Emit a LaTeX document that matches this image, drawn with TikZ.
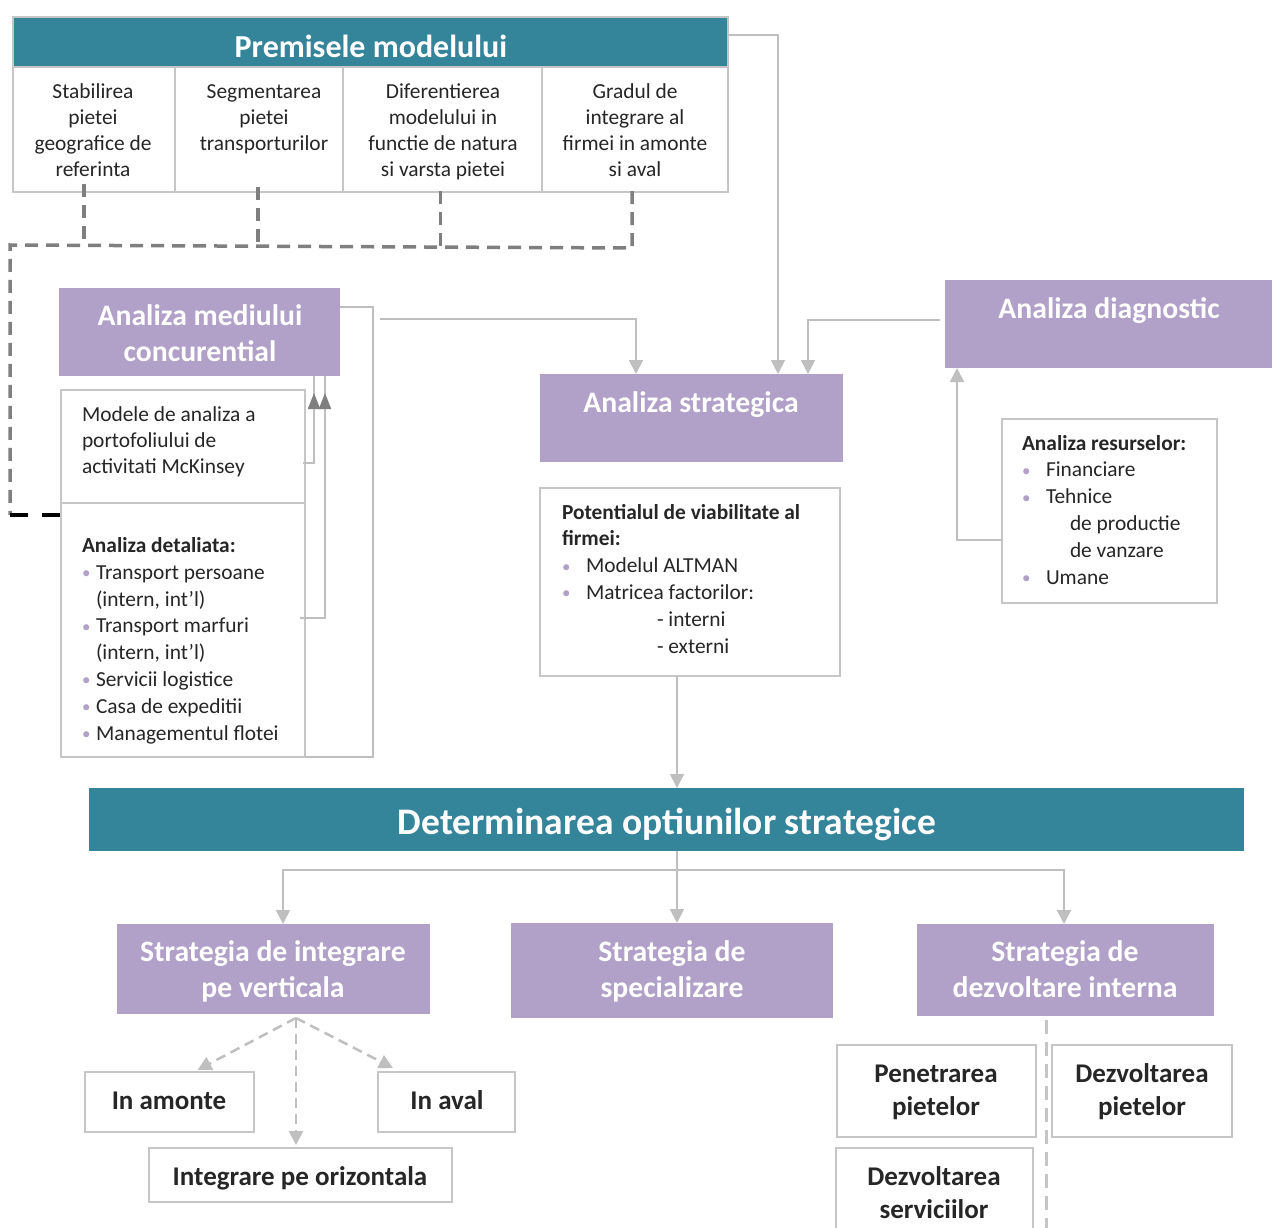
\documentclass[tikz,border=0pt]{standalone}
\usepackage{fontspec}
\setmainfont{Carlito}
\usetikzlibrary{arrows.meta,calc,decorations.markings}
\definecolor{hdteal}{HTML}{34849A}
\definecolor{hdpurple}{HTML}{B1A0C7}
\definecolor{boxgray}{HTML}{C6C6C6}
\definecolor{linegray}{HTML}{BFBFBF}
\definecolor{dashgray}{HTML}{7F7F7F}
\definecolor{inkgray}{HTML}{262626}
% rectangle node given by its corners: name, style, x1, y1, x2, y2
\newcommand\rectnode[6]{\node[#2, minimum width={#5-#3}, minimum height={#6-#4}] (#1) at ({(#3+#5)/2},{(#4+#6)/2}) {};}
% purple list bullet in a box of the given width
\newcommand\listdot[1]{\makebox[#1][l]{\textcolor{hdpurple}{\fontsize{17}{17}\selectfont\raisebox{0.5pt}{•}}}}
\begin{document}
\begin{tikzpicture}[x=1pt,y=-1pt,
  every node/.style={inner sep=0pt,outer sep=0pt},
  frame/.style={draw=boxgray,line width=1.6pt,fill=white},
  tealbox/.style={fill=hdteal},
  purplebox/.style={fill=hdpurple},
  headtxt/.style={text=white,font=\bfseries\fontsize{29.7}{36}\selectfont,align=center,anchor=base},
  celltxt/.style={text=inkgray,font=\fontsize{21.4}{26}\selectfont,align=center,anchor=base},
  listtxt/.style={text=inkgray,font=\fontsize{21.4}{26.8}\selectfont,align=left,anchor=base west},
  choicetxt/.style={text=inkgray,font=\bfseries\fontsize{27}{33}\selectfont,align=center,anchor=base},
  conn/.style={draw=linegray,line width=1.8pt},
  arr/.style={conn,-{Triangle[width=14pt,length=14pt]}},
  dasharr/.style={draw=linegray,line width=2.5pt,dash pattern=on 10pt off 6pt,-{Triangle[width=14pt,length=14pt]}},
  dashdark/.style={draw=dashgray,line width=3.5pt,dash pattern=on 13pt off 8pt},
  dashblack/.style={draw=black,line width=4pt,dash pattern=on 18pt off 14pt},
  dashlight/.style={draw=boxgray,line width=3pt,dash pattern=on 14pt off 8pt},
  upmark/.style={postaction={decorate},decoration={markings,
      mark=at position -17pt with {\arrow{Triangle[width=12pt,length=16pt,color=dashgray]}}}}
]
\useasboundingbox (0,0) rectangle (1272,1228);

% ---------- premises table ----------
\rectnode{prem}{tealbox,draw=boxgray,line width=1.6pt}{13}{17}{728}{67}
\node[headtxt,font=\bfseries\fontsize{32}{36}\selectfont] (tprem) at (371,58) {Premisele modelului};
\rectnode{c1}{frame}{13}{67}{175}{192}
\rectnode{c2}{frame}{175}{67}{343}{192}
\rectnode{c3}{frame}{343}{67}{542}{192}
\rectnode{c4}{frame}{542}{67}{728}{192}
% multi-line texts are placed by the baseline of their last line
\node[celltxt] (tc1) at (93,177) {Stabilirea\\pietei\\geografice de\\referinta};
\node[celltxt] (tc2) at (264,151) {Segmentarea\\pietei\\transporturilor};
\node[celltxt] (tc3) at (443,177) {Diferentierea\\modelului in\\functie de natura\\si varsta pietei};
\node[celltxt] (tc4) at (635,177) {Gradul de\\integrare al\\firmei in amonte\\si aval};

% ---------- competitive environment ----------
\rectnode{amc}{purplebox}{59}{288}{340}{376}
\node[headtxt] (tamc) at (200,361) {Analiza mediului\\concurential};
\rectnode{mck}{frame}{61}{390}{305}{503}
\rectnode{det}{frame}{61}{503}{305}{757}
\node[listtxt,font=\fontsize{21.4}{26}\selectfont] (tmck) at (82,473) {Modele de analiza a\\portofoliului de\\activitati McKinsey};
\node[listtxt] (tdet) at (82,740) {\textbf{Analiza detaliata:}\\
  \listdot{14pt}Transport persoane\\\hspace*{14pt}(intern, int’l)\\
  \listdot{14pt}Transport marfuri\\\hspace*{14pt}(intern, int’l)\\
  \listdot{14pt}Servicii logistice\\
  \listdot{14pt}Casa de expeditii\\
  \listdot{14pt}Managementul flotei};

% ---------- strategic analysis ----------
\rectnode{strat}{purplebox}{540}{374}{843}{462}
\node[headtxt] (tstrat) at (691,412) {Analiza strategica};
\rectnode{pot}{frame}{540}{488}{840}{676}
\node[listtxt] (tpot) at (562,653) {\textbf{Potentialul de viabilitate al}\\\textbf{firmei:}\\
  \listdot{24pt}Modelul ALTMAN\\
  \listdot{24pt}Matricea factorilor:\\
  \hspace*{95pt}- interni\\
  \hspace*{95pt}- externi};

% ---------- diagnostic analysis ----------
\rectnode{diag}{purplebox}{945}{280}{1272}{368}
\node[headtxt] (tdiag) at (1109,318) {Analiza diagnostic};
\rectnode{res}{frame}{1002}{419}{1217}{603}
\node[listtxt] (tres) at (1022,584) {\textbf{Analiza resurselor:}\\
  \listdot{24pt}Financiare\\
  \listdot{24pt}Tehnice\\
  \hspace*{48pt}de productie\\
  \hspace*{48pt}de vanzare\\
  \listdot{24pt}Umane};

% ---------- strategic options ----------
\rectnode{opt}{tealbox}{89}{788}{1244}{851}
\node[headtxt,font=\bfseries\fontsize{37.5}{40}\selectfont] (topt) at (667,834) {Determinarea optiunilor strategice};
\rectnode{s1}{purplebox}{117}{924}{430}{1014}
\rectnode{s2}{purplebox}{511}{923}{833}{1018}
\rectnode{s3}{purplebox}{917}{924}{1214}{1016}
\node[headtxt] (ts1) at (273,997) {Strategia de integrare\\pe verticala};
\node[headtxt] (ts2) at (672,997) {Strategia de\\specializare};
\node[headtxt] (ts3) at (1065,997) {Strategia de\\dezvoltare interna};

% ---------- integration choices ----------
\rectnode{am}{frame}{85}{1072}{254}{1132}
\rectnode{av}{frame}{378}{1072}{515}{1132}
\rectnode{orz}{frame}{149}{1148}{452}{1202}
\node[choicetxt] (tam) at (169,1109) {In amonte};
\node[choicetxt] (tav) at (447,1109) {In aval};
\node[choicetxt] (torz) at (300,1185) {Integrare pe orizontala};

% ---------- internal development choices ----------
\rectnode{pen}{frame}{837}{1045}{1036}{1137}
\rectnode{dzp}{frame}{1052}{1045}{1232}{1137}
\rectnode{dzs}{frame}{836}{1148}{1033}{1240}
\node[choicetxt] (tpen) at (936,1115) {Penetrarea\\pietelor};
\node[choicetxt] (tdzp) at (1142,1115) {Dezvoltarea\\pietelor};
\node[choicetxt] (tdzs) at (934,1218) {Dezvoltarea\\serviciilor};

% ---------- dashed links from the premises ----------
\coordinate (jl) at (10,245);
\coordinate (jb) at (10,515);
\draw[dashdark] ($(c1.south)+(-10,-8)$) -- ++(0,61);
\draw[dashdark] ($(c2.south)+(-1,-5)$) -- ++(0,58);
\draw[dashdark] ($(c3.south)+(-2,-1)$) -- ++(0,59);
\draw[dashdark] ($(c4.south)+(-3,-1)$) -- ++(0,57) -- (jl) -- (jb);
\draw[dashblack] (jb) -- ($(det.north west)+(0,12)$);

% ---------- grey connectors ----------
\draw[arr] ([yshift=7pt]prem.east) -| ([xshift=86.5pt]strat.north);
\draw[arr] ([xshift=-5pt,yshift=4pt]diag.west) -| ([xshift=116.5pt]strat.north);
\draw[arr] (res.west |- 0,540) -| ([xshift=12pt]diag.south west);
\draw[conn] ([yshift=25pt]amc.east) -| ($(det.south east)+(68,0)$) -- (det.south east);
\draw[arr] ($(amc.east)+(40,-13)$) -| ([xshift=-55.5pt]strat.north);
\draw[conn,upmark] ([xshift=-2pt,yshift=-16.5pt]mck.east) -| ([xshift=114.5pt]amc.south);
\draw[conn,upmark] ($(det.east)+(-5,-12)$) -| ([xshift=125.5pt]amc.south);

\coordinate (sp) at ($(pot.south)+(-13,0)$);
\draw[arr] (sp) -- (opt.north -| sp);
\coordinate (sp2) at ($(opt.south)+(10.5,0)$);
\coordinate (hub) at ($(opt.south)+(10.5,19)$);
\draw[arr] (sp2) -- (s2.north -| sp2);
\draw[arr] (hub) -| ([xshift=9.5pt]s1.north);
\draw[arr] (hub) -| ([xshift=-1.5pt]s3.north);

% ---------- dashed links below the strategies ----------
\coordinate (fork) at ($(s1.south)+(22.5,4)$);
\draw[dasharr] (fork) -- ([xshift=28pt,yshift=2pt]am.north);
\draw[dasharr] (fork) -- ([xshift=-53.5pt,yshift=4pt]av.north);
\draw[dasharr] (fork) -- ([xshift=-4.5pt,yshift=3pt]orz.north);
\coordinate (vend) at (1046,1230);
\draw[dashlight] ($(s3.south)+(-19.5,4)$) -- (vend);
\end{tikzpicture}
\end{document}
